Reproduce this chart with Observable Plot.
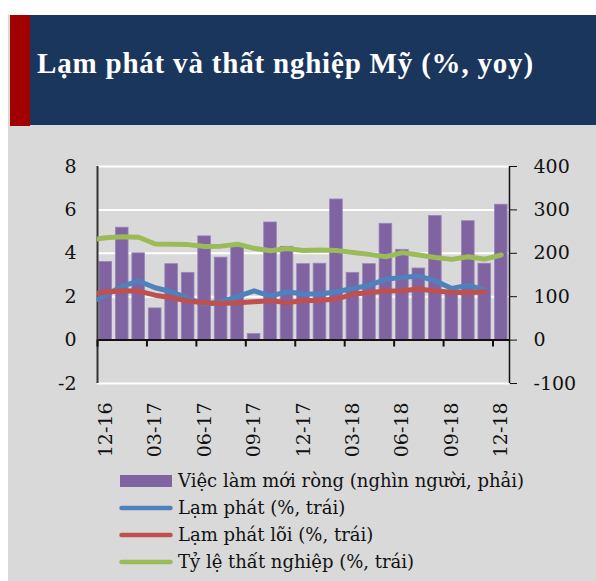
<!DOCTYPE html>
<html><head><meta charset="utf-8">
<script src="https://cdn.jsdelivr.net/npm/d3@7"></script>
<script src="https://cdn.jsdelivr.net/npm/@observablehq/plot@0.6"></script>
<style>
body{margin:0;background:#fff;width:596px;height:581px;overflow:hidden;position:relative;font-family:"DejaVu Serif",serif;}
#panel{position:absolute;left:8px;top:15px;width:588px;height:566px;background:#d9d9d9;}
#band{position:absolute;left:30px;top:15px;width:566px;height:110px;background:#1b365d;}
#accent{position:absolute;left:10px;top:15px;width:20px;height:111px;background:#a00000;}
#title{position:absolute;left:37px;top:47px;line-height:29px;color:#fff;font:bold 29px "Liberation Serif",serif;letter-spacing:0.8px;white-space:nowrap;}
#chart{position:absolute;left:0;top:140px;}
#legend{position:absolute;left:119px;top:467px;}
.row{height:27px;display:flex;align-items:center;font-size:18px;color:#111;white-space:nowrap;}
.row svg{margin-right:5px;}
</style>
</head><body>
<div id="panel"></div>
<div id="band"></div>
<div id="accent"></div>
<div id="title">Lạm phát và thất nghiệp Mỹ (%, yoy)</div>
<div id="chart"></div>
<div id="legend"></div>
<script>
const months = ["11-16","12-16","01-17","02-17","03-17","04-17","05-17","06-17","07-17","08-17","09-17","10-17","11-17","12-17","01-18","02-18","03-18","04-18","05-18","06-18","07-18","08-18","09-18","10-18","11-18","12-18"];
const jobs  = [null,180,259,200,73,175,155,239,190,214,14,271,215,175,176,324,155,175,268,208,165,286,108,274,176,312];
const cpi   = [1.7,2.07,2.49,2.72,2.41,2.23,1.92,1.64,1.77,2.0,2.27,2.03,2.23,2.12,2.12,2.23,2.38,2.53,2.8,2.89,2.95,2.73,2.38,2.53,2.3,null];
const core  = [2.1,2.22,2.27,2.26,2.07,1.95,1.8,1.72,1.69,1.72,1.77,1.81,1.73,1.81,1.84,1.89,2.12,2.18,2.26,2.27,2.35,2.26,2.2,2.18,2.23,null];
const unemp = [4.6,4.72,4.76,4.74,4.43,4.42,4.4,4.31,4.33,4.42,4.23,4.12,4.22,4.13,4.15,4.13,4.04,3.95,3.84,4.03,3.92,3.81,3.72,3.84,3.73,3.92];
const leftTicks  = [-2,0,2,4,6,8];
const rightTicks = [-100,0,100,200,300,400];
const seriesNames = ["Việc làm mới ròng (nghìn người, phải)","Lạm phát (%, trái)","Lạm phát lõi (%, trái)","Tỷ lệ thất nghiệp (%, trái)"];
const seriesColors = ["#8064a2","#4f81bd","#c0504d","#9bbb59"];

const ratio = rightTicks[rightTicks.length-1] / leftTicks[leftTicks.length-1];
const rows = months.map((m,k)=>({i:k-1, m, jobs:jobs[k], cpi:cpi[k], core:core[k], unemp:unemp[k]}));
const barRows = rows.filter(d=>d.jobs!=null);
const nBars = barRows.length;
const labelIdx = d3.range(0, nBars, 3);
const pad = 0.115;

const chart = Plot.plot({
  width: 596, height: 330,
  marginLeft: 97, marginRight: 87, marginTop: 26, marginBottom: 87,
  x: {domain: [-0.5, nBars-0.5]},
  y: {domain: [leftTicks[0], leftTicks[leftTicks.length-1]]},
  style: {background: "transparent", fontFamily: "DejaVu Serif", fontSize: "19px", color: "#111", overflow: "visible"},
  marks: [
    Plot.gridY(leftTicks.filter(v=>v!==0), {stroke: "#fff", strokeOpacity: 1, strokeWidth: 2}),
    Plot.rectY(barRows, {x1: d=>d.i-0.5+pad, x2: d=>d.i+0.5-pad, y1: 0, y2: d=>d.jobs/ratio, fill: seriesColors[0], stroke: "#9a86bb", strokeWidth: 0.8}),
    Plot.ruleY([0], {stroke: "#111", strokeWidth: 2}),
    Plot.ruleX([-0.5], {stroke: "#333", strokeWidth: 2}),
    Plot.ruleX([nBars-0.5], {stroke: "#111", strokeWidth: 1.5}),
    Plot.ruleX(labelIdx.map(i=>i-0.5), {y1: 0, y2: -0.32, stroke: "#111", strokeWidth: 2}),
    Plot.line(rows, {x: "i", y: "cpi", stroke: seriesColors[1], strokeWidth: 5, strokeLinejoin: "round", strokeLinecap: "round", clip: true}),
    Plot.line(rows, {x: "i", y: "core", stroke: seriesColors[2], strokeWidth: 5, strokeLinejoin: "round", strokeLinecap: "round", clip: true}),
    Plot.line(rows, {x: "i", y: "unemp", stroke: seriesColors[3], strokeWidth: 5, strokeLinejoin: "round", strokeLinecap: "round", clip: true}),
    Plot.axisY(leftTicks, {anchor: "left", tickSize: 0, tickPadding: 21, tickFormat: d=>String(d), label: null}),
    Plot.axisY(rightTicks.map(v=>v/ratio), {anchor: "right", tickSize: 7, tickPadding: 17, tickFormat: d=>String(Math.round(d*ratio)), stroke: "#111", label: null}),
    Plot.axisX(labelIdx, {anchor: "bottom", tickSize: 0, tickPadding: 19, tickRotate: -90, tickFormat: i=>barRows[i].m, label: null})
  ]
});
document.getElementById("chart").appendChild(chart);

const legend = document.getElementById("legend");
seriesNames.forEach((name, k) => {
  const row = document.createElement("div");
  row.className = "row";
  const sw = k === 0
    ? `<svg width="54" height="14"><rect x="1" y="1" width="52" height="12" fill="${seriesColors[k]}"/></svg>`
    : `<svg width="54" height="14"><line x1="2.5" y1="7" x2="51.5" y2="7" stroke="${seriesColors[k]}" stroke-width="4.5" stroke-linecap="round"/></svg>`;
  row.innerHTML = sw + `<span>${name}</span>`;
  legend.appendChild(row);
});
</script>
</body></html>
